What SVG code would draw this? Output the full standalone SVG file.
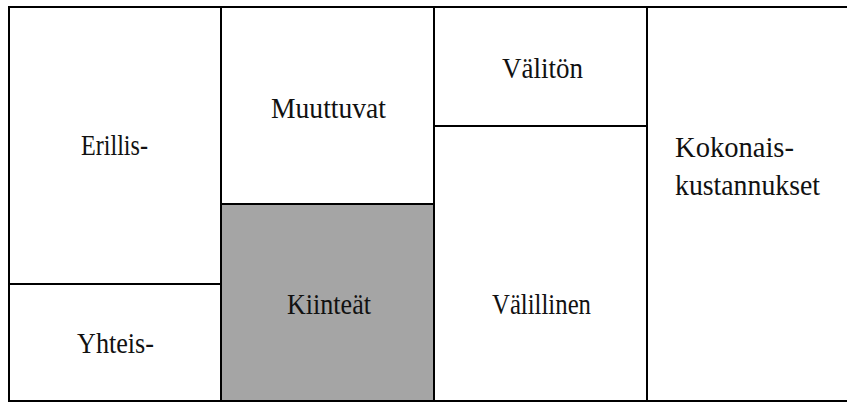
<svg xmlns="http://www.w3.org/2000/svg" width="847" height="403" viewBox="0 0 847 403">
<defs>
<style type="text/css">
.ln{stroke:#000;stroke-width:2;fill:none}
text{font-family:"Liberation Serif";font-size:29px;fill:#111}
</style>
</defs>
<rect width="847" height="403" fill="#fff"/>
<g id="kiinteat">
<rect x="221" y="204" width="213" height="197" fill="#a5a5a5"/>
<text x="287" y="314" font-family="Liberation Serif" textLength="84" lengthAdjust="spacingAndGlyphs">Kiinteät</text>
</g>
<g id="erillis"><text x="81" y="155" font-family="Liberation Serif" textLength="67" lengthAdjust="spacingAndGlyphs">Erillis-</text></g>
<g id="yhteis"><text x="77" y="353" font-family="Liberation Serif" textLength="77" lengthAdjust="spacingAndGlyphs">Yhteis-</text></g>
<g id="muuttuvat"><text x="271" y="118" font-family="Liberation Serif" textLength="115" lengthAdjust="spacingAndGlyphs">Muuttuvat</text></g>
<g id="valiton"><text x="502" y="78" font-family="Liberation Serif" textLength="81" lengthAdjust="spacingAndGlyphs">Välitön</text></g>
<g id="valillinen"><text x="492" y="314" font-family="Liberation Serif" textLength="99" lengthAdjust="spacingAndGlyphs">Välillinen</text></g>
<g id="kokonais">
<text x="675" y="157" font-family="Liberation Serif" textLength="119" lengthAdjust="spacingAndGlyphs">Kokonais-</text>
<text x="675" y="195" font-family="Liberation Serif" textLength="145" lengthAdjust="spacingAndGlyphs">kustannukset</text>
</g>
<g id="lines">
<path class="ln" d="M9 7H847M9 401H847M9 6V402M221 7V401M434 7V401M647 7V401M9 284H221M221 204H434M434 126H647"/>
</g>
</svg>
